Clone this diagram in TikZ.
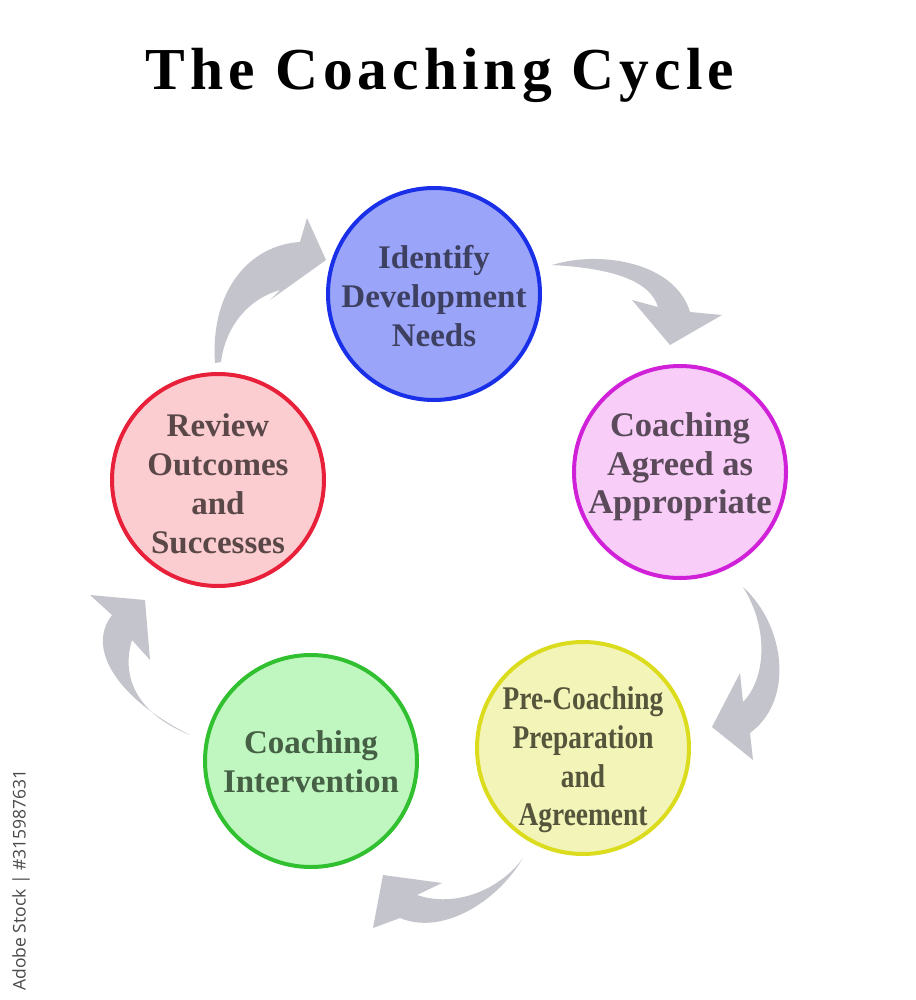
\documentclass[tikz,border=0pt]{standalone}
\usepackage{fontspec}
\setmainfont{Liberation Serif}
\newfontfamily\titlefont[LetterSpace=8.5]{Liberation Serif}
\newfontfamily\condfont[FakeStretch=0.83]{Liberation Serif}
\newfontfamily\wmfont{Open Sans}
\definecolor{arrowgray}{HTML}{C4C4CC}
\definecolor{bfill}{HTML}{9AA5FA}\definecolor{bdraw}{HTML}{1A30E8}\definecolor{btext}{HTML}{3D4060}
\definecolor{mfill}{HTML}{F8CDF8}\definecolor{mdraw}{HTML}{D020D8}\definecolor{mtext}{HTML}{5A4A5A}
\definecolor{yfill}{HTML}{F3F4B8}\definecolor{ydraw}{HTML}{DCDC1E}\definecolor{ytext}{HTML}{55553C}
\definecolor{gfill}{HTML}{C0F7C0}\definecolor{gdraw}{HTML}{30C030}\definecolor{gtext}{HTML}{456045}
\definecolor{rfill}{HTML}{FCCDD0}\definecolor{rdraw}{HTML}{E8203A}\definecolor{rtext}{HTML}{5A4848}
\definecolor{wmgray}{HTML}{4A4A4A}
\tikzset{
  stage/.style={circle, line width=4pt, minimum size=212pt, inner sep=0pt},
  stagetext/.style={align=center, font=\fontsize{33}{39}\selectfont\bfseries, inner sep=0pt},
  swoosh/.style={fill=arrowgray, draw=none}
}
\begin{document}
\begin{tikzpicture}[x=1pt,y=-1pt]
\useasboundingbox (0,0) rectangle (915,1000);
\fill[white] (0,0) rectangle (915,1000);
% title
\node[font=\titlefont\fontsize{59.5}{59.5}\selectfont\bfseries, inner sep=0pt, anchor=base] (title) at (440,90) {The Coaching Cycle};
% circles
\node[stage, fill=bfill, draw=bdraw] (c1) at (434,294) {};
\node[stage, fill=mfill, draw=mdraw] (c2) at (680,472) {};
\node[stage, fill=yfill, draw=ydraw] (c3) at (583,748) {};
\node[stage, fill=gfill, draw=gdraw] (c4) at (311,761) {};
\node[stage, fill=rfill, draw=rdraw] (c5) at (218,480) {};
% texts
\node[stagetext, text=btext] (t1) at (434,296) {Identify\\Development\\Needs};
\node[stagetext, text=mtext, font=\fontsize{34.5}{38.5}\selectfont\bfseries] (t2) at (680,467) {Coaching\\Agreed as\\Appropriate};
\node[stagetext, text=ytext, font=\condfont\fontsize{33}{38.7}\selectfont\bfseries] (t3) at (583,760) {Pre-Coaching\\Preparation\\and\\Agreement};
\node[stagetext, text=gtext] (t4) at (311,762) {Coaching\\Intervention};
\node[stagetext, text=rtext] (t5) at (218,484) {Review\\Outcomes\\and\\Successes};
% arrows
\fill[swoosh] (552,265) .. controls (600,250) and (675,262) .. (690,312) -- (722,315) -- (670,345) -- (632,300) -- (658,307) .. controls (650,280) and (610,268) .. (552,265) -- cycle;
\fill[swoosh] (743,587) .. controls (785,625) and (795,700) .. (750,733) -- (753,760) -- (712,727) -- (740,673) -- (743,702) .. controls (765,680) and (770,630) .. (743,587) -- cycle;
\fill[swoosh] (523,858) .. controls (495,905) and (440,935) .. (400,918) -- (373,928) -- (383,875) -- (442,883) -- (417,895) .. controls (455,908) and (500,890) .. (523,858) -- cycle;
\fill[swoosh] (190,735) .. controls (120,700) and (85,650) .. (112,615) -- (90,595) -- (145,600) -- (150,660) -- (132,640) .. controls (120,680) and (140,715) .. (190,735) -- cycle;
\fill[swoosh] (215,363) .. controls (210,290) and (250,245) .. (300,242) -- (307,218) -- (326,260) -- (270,300) -- (280,290) .. controls (245,300) and (225,330) .. (221,362) -- cycle;
% watermark id
\node[font=\wmfont\fontsize{17.5}{17.5}\selectfont, text=wmgray, rotate=90, inner sep=0pt] (wm) at (21,880) {Adobe Stock | \#315987631};
\end{tikzpicture}
\end{document}
